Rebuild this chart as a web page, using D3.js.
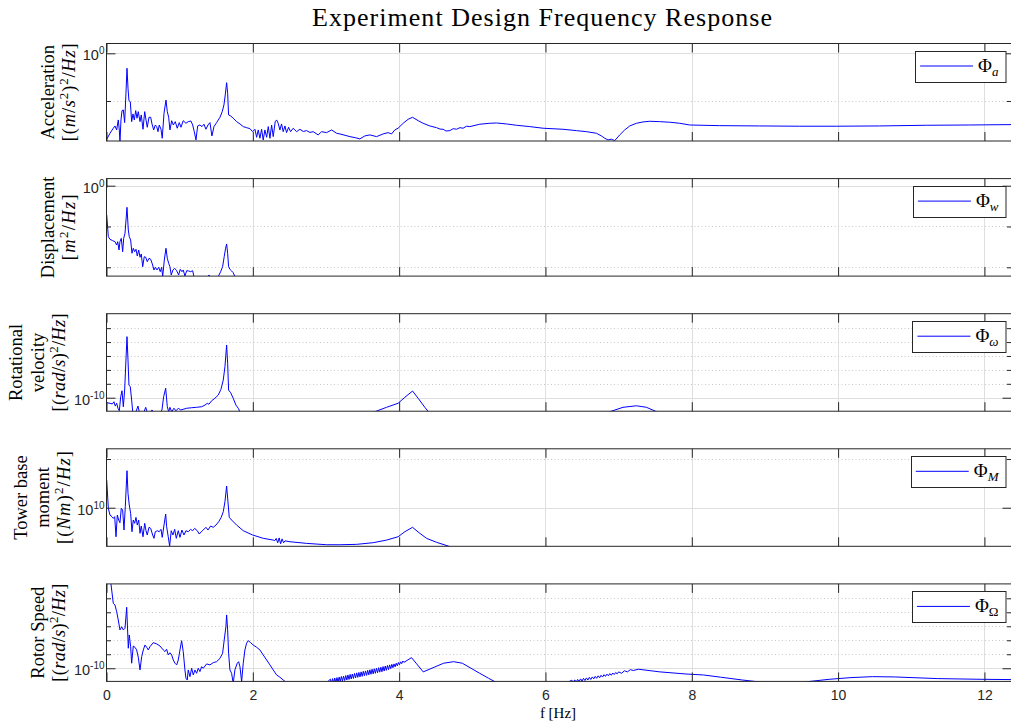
<!DOCTYPE html>
<html>
<head>
<meta charset="utf-8">
<script src="https://cdn.jsdelivr.net/npm/d3@7"></script>
<style>
  body { margin: 0; background: #fff; }
  svg { display: block; }
</style>
</head>
<body>
<svg id="chart" width="1011" height="722"></svg>
<script>
// ---------------------------------------------------------------
// Power spectral densities of the experiment design signals.
// Each series: [frequency (Hz), log10(PSD)].
// ---------------------------------------------------------------
const freqTicks = [0, 2, 4, 6, 8, 10, 12];
const freqMax = 12.37;

const accel = [
  [0.003,-9.01],[0.048,-8.39],[0.093,-7.86],[0.116,-7.62],[0.139,-8.04],[0.161,-6.99],[0.175,-8.04],[0.184,-9.27],
  [0.198,-6.99],[0.212,-6.01],[0.23,-5.94],[0.248,-7.27],[0.266,-4.19],[0.28,-1.57],[0.294,-3.67],[0.307,-4.97],
  [0.325,-5.07],[0.344,-7.17],[0.362,-6.36],[0.38,-6.99],[0.399,-6.01],[0.417,-6.81],[0.434,-6.12],[0.458,-7.17],
  [0.475,-6.47],[0.499,-7.97],[0.522,-6.12],[0.54,-6.99],[0.557,-7.76],[0.581,-6.71],[0.604,-6.71],[0.622,-7.41],
  [0.645,-8.04],[0.667,-7.52],[0.686,-7.69],[0.704,-8.22],[0.721,-7.52],[0.745,-7.97],[0.762,-8.91],[0.786,-6.29],
  [0.813,-4.9],[0.831,-6.12],[0.85,-6.71],[0.867,-8.04],[0.891,-7.07],[0.913,-7.52],[0.94,-7.17],[0.967,-7.86],
  [0.995,-7.27],[1.018,-7.76],[1.049,-7.07],[1.086,-7.34],[1.117,-7.17],[1.154,-7.1],[1.178,-7.52],[1.2,-8.22],
  [1.223,-9.09],[1.246,-7.62],[1.277,-7.52],[1.305,-7.69],[1.332,-7.44],[1.359,-7.97],[1.387,-7.52],[1.414,-7.27],
  [1.441,-8.67],[1.469,-7.69],[1.505,-7.27],[1.551,-6.71],[1.582,-6.12],[1.605,-5.42],[1.623,-4.37],[1.642,-3.08],
  [1.656,-4.19],[1.669,-6.47],[1.697,-6.57],[1.732,-6.81],[1.779,-7.17],[1.824,-7.41],[1.869,-7.69],[1.915,-7.8],
  [1.96,-7.9],[1.997,-8.22],[2.029,-7.97],[2.052,-8.81],[2.074,-8.04],[2.097,-8.91],[2.12,-7.97],[2.142,-9.09],
  [2.165,-8.04],[2.189,-8.81],[2.211,-7.69],[2.234,-8.91],[2.257,-7.52],[2.279,-8.74],[2.306,-7.17],[2.325,-6.99],
  [2.347,-7.34],[2.37,-8.04],[2.393,-7.41],[2.415,-8.22],[2.439,-7.62],[2.461,-8.32],[2.489,-7.76],[2.516,-8.22],
  [2.552,-7.86],[2.598,-8.22],[2.643,-7.97],[2.69,-8.2],[2.735,-8.11],[2.78,-8.3],[2.825,-8.22],[2.893,-8.56],
  [2.94,-8.22],[3.008,-8.32],[3.077,-8.04],[3.145,-8.39],[3.19,-8.46],[3.26,-8.6],[3.327,-8.74],[3.4,-8.85],
  [3.463,-8.98],[3.531,-8.67],[3.6,-8.56],[3.691,-8.74],[3.781,-8.46],[3.85,-8.32],[3.896,-8.46],[3.941,-8.04],
  [3.986,-7.86],[4.055,-7.34],[4.123,-6.92],[4.183,-6.71],[4.26,-7.07],[4.328,-7.34],[4.419,-7.62],[4.511,-7.8],
  [4.56,-7.95],[4.601,-7.97],[4.64,-8.15],[4.693,-8.11],[4.74,-7.9],[4.784,-7.97],[4.83,-7.8],[4.874,-7.86],
  [4.92,-7.65],[4.966,-7.69],[5.102,-7.44],[5.239,-7.34],[5.331,-7.31],[5.467,-7.41],[5.604,-7.55],[5.786,-7.69],
  [5.967,-7.86],[6.24,-7.97],[6.423,-8.11],[6.56,-8.22],[6.697,-8.39],[6.765,-8.67],[6.81,-8.91],[6.855,-9.09],
  [6.902,-9.01],[6.947,-9.16],[7.015,-8.56],[7.083,-8.04],[7.152,-7.62],[7.243,-7.34],[7.333,-7.2],[7.425,-7.13],
  [7.561,-7.17],[7.698,-7.23],[7.835,-7.34],[7.971,-7.52],[8.381,-7.59],[8.928,-7.62],[9.474,-7.65],[9.98,-7.65],
  [10.567,-7.62],[11.209,-7.55],[11.796,-7.52],[12.37,-7.48]
];

const displacement = [
  [0.003,-3.59],[0.025,-6.25],[0.048,-6.57],[0.085,-6.74],[0.116,-6.86],[0.139,-7.27],[0.153,-6.86],[0.171,-7.88],
  [0.184,-6.86],[0.202,-6.45],[0.221,-8.09],[0.235,-6.45],[0.253,-5.83],[0.28,-2.65],[0.298,-5.43],[0.311,-6.25],
  [0.33,-6.65],[0.348,-8.28],[0.366,-7.67],[0.385,-8.09],[0.403,-7.79],[0.421,-8.62],[0.44,-7.88],[0.458,-8.77],
  [0.475,-8.37],[0.495,-9.93],[0.516,-8.7],[0.536,-8.77],[0.557,-9.31],[0.581,-8.9],[0.604,-9.02],[0.631,-9.72],
  [0.649,-10.33],[0.667,-10.0],[0.69,-10.33],[0.713,-10.0],[0.735,-10.54],[0.754,-10.0],[0.768,-11.15],[0.79,-9.11],
  [0.813,-7.67],[0.831,-8.9],[0.85,-9.51],[0.867,-9.93],[0.885,-10.94],[0.908,-10.33],[0.932,-10.12],[0.959,-10.42],
  [0.986,-10.94],[1.008,-10.25],[1.031,-10.54],[1.049,-10.33],[1.072,-11.07],[1.096,-10.42],[1.123,-10.45],
  [1.15,-10.54],[1.178,-10.42],[1.195,-11.15],[1.25,-11.6],[1.3,-11.3],[1.37,-11.4],[1.4,-10.94],[1.43,-11.3],
  [1.48,-11.5],[1.527,-11.15],[1.56,-10.54],[1.587,-9.93],[1.609,-8.7],[1.628,-7.67],[1.642,-7.14],[1.656,-8.28],
  [1.669,-9.93],[1.687,-10.25],[1.71,-10.45],[1.732,-10.66],[1.755,-11.15],[1.8,-11.6],[2.0,-12.0]
];

const rotVelocity = [
  [0.003,-10.36],[0.048,-10.4],[0.079,-10.45],[0.102,-10.29],[0.12,-10.6],[0.139,-10.4],[0.157,-10.76],[0.175,-10.94],
  [0.194,-9.93],[0.212,-9.5],[0.23,-10.65],[0.248,-9.45],[0.266,-7.29],[0.28,-5.61],[0.294,-7.29],[0.307,-9.09],
  [0.325,-9.21],[0.344,-10.17],[0.358,-11.01],[0.39,-11.2],[0.43,-10.6],[0.448,-11.01],[0.5,-11.2],[0.536,-10.69],
  [0.56,-11.1],[0.6,-11.1],[0.622,-10.88],[0.65,-11.1],[0.73,-11.1],[0.758,-10.88],[0.781,-9.93],[0.809,-9.32],
  [0.831,-10.65],[0.85,-11.01],[0.867,-10.69],[0.891,-11.01],[0.922,-10.76],[0.949,-10.94],[0.981,-10.76],
  [1.014,-10.88],[1.049,-10.83],[1.096,-10.76],[1.164,-10.72],[1.232,-10.69],[1.3,-10.65],[1.346,-10.53],
  [1.377,-10.4],[1.4,-10.47],[1.437,-10.22],[1.482,-10.04],[1.527,-9.81],[1.564,-9.4],[1.596,-8.73],[1.619,-7.77],
  [1.642,-6.21],[1.656,-7.53],[1.669,-9.45],[1.697,-9.64],[1.732,-10.04],[1.769,-10.53],[1.801,-10.76],[1.824,-11.01],
  [1.9,-11.4],[3.5,-11.4],[3.668,-11.01],[3.828,-10.69],[3.986,-10.4],[4.078,-9.97],[4.183,-9.52],[4.26,-10.04],
  [4.351,-10.69],[4.406,-11.05],[4.5,-11.5],[6.7,-11.5],[6.878,-11.01],[7.06,-10.69],[7.243,-10.58],[7.38,-10.69],
  [7.538,-11.05],[7.7,-11.5]
];

const towerMoment = [
  [0.003,12.84],[0.025,9.94],[0.048,9.25],[0.075,9.08],[0.093,8.91],[0.112,9.08],[0.13,7.02],[0.148,9.25],
  [0.167,8.74],[0.184,8.46],[0.202,9.94],[0.221,9.76],[0.239,7.71],[0.257,10.1],[0.28,13.8],[0.294,11.48],
  [0.311,10.28],[0.33,9.42],[0.348,7.54],[0.366,8.74],[0.385,8.4],[0.403,9.01],[0.421,8.22],[0.44,8.74],
  [0.458,7.37],[0.475,8.12],[0.499,7.02],[0.522,8.4],[0.54,7.64],[0.557,7.2],[0.581,7.99],[0.604,7.88],
  [0.631,7.2],[0.649,6.86],[0.667,7.54],[0.694,7.64],[0.721,7.54],[0.745,7.78],[0.762,6.96],[0.786,8.22],
  [0.809,9.35],[0.822,8.05],[0.844,7.02],[0.863,6.07],[0.885,7.64],[0.908,7.2],[0.932,7.78],[0.954,6.86],
  [0.981,7.64],[1.004,6.96],[1.031,7.71],[1.059,7.2],[1.086,7.64],[1.117,7.54],[1.15,7.78],[1.178,7.64],
  [1.205,7.88],[1.241,7.64],[1.268,7.3],[1.295,7.54],[1.322,7.71],[1.359,7.99],[1.387,7.71],[1.423,8.12],
  [1.459,7.99],[1.496,8.22],[1.533,8.56],[1.568,9.01],[1.596,9.59],[1.619,10.62],[1.642,12.23],[1.66,10.62],
  [1.678,9.01],[1.71,8.74],[1.779,8.22],[1.869,7.64],[1.997,7.2],[2.142,6.86],[2.279,6.68],[2.3,6.62],
  [2.32,6.85],[2.34,6.4],[2.36,6.9],[2.38,6.3],[2.4,6.8],[2.42,6.4],[2.44,6.6],[2.507,6.51],[2.735,6.34],
  [3.008,6.2],[3.19,6.2],[3.418,6.24],[3.645,6.41],[3.828,6.68],[3.986,7.02],[4.078,7.54],[4.183,7.99],
  [4.273,7.43],[4.374,6.86],[4.511,6.45],[4.669,6.07],[4.8,5.7]
];

const rotorSpeed = [
  [0,-3.5],[0.061,-3.98],[0.093,-5.36],[0.116,-5.48],[0.139,-5.96],[0.161,-6.55],[0.184,-7.26],[0.208,-7.03],
  [0.23,-7.26],[0.253,-7.14],[0.276,-5.64],[0.298,-8.57],[0.311,-7.62],[0.33,-8.46],[0.344,-9.64],[0.366,-8.41],
  [0.389,-8.5],[0.412,-8.69],[0.434,-9.21],[0.458,-10.12],[0.481,-9.17],[0.503,-8.69],[0.526,-8.34],[0.549,-8.5],
  [0.571,-8.69],[0.594,-8.46],[0.639,-8.17],[0.686,-8.26],[0.731,-8.41],[0.776,-8.69],[0.799,-8.81],[0.822,-8.64],
  [0.844,-9.05],[0.867,-8.89],[0.891,-9.05],[0.913,-9.41],[0.936,-9.64],[0.959,-9.76],[0.981,-9.41],[1.004,-8.69],
  [1.027,-8.03],[1.049,-8.81],[1.072,-10.12],[1.086,-10.71],[1.104,-10.84],[1.117,-10.12],[1.141,-10.6],
  [1.164,-10.0],[1.186,-10.48],[1.209,-10.12],[1.232,-10.36],[1.254,-10.0],[1.277,-10.24],[1.3,-9.89],
  [1.322,-10.0],[1.369,-9.69],[1.414,-9.76],[1.459,-9.6],[1.505,-9.53],[1.551,-9.29],[1.587,-8.93],[1.609,-7.98],
  [1.632,-7.03],[1.642,-6.19],[1.656,-7.26],[1.669,-8.93],[1.687,-10.12],[1.71,-10.36],[1.732,-11.07],
  [1.755,-10.12],[1.787,-9.64],[1.806,-9.53],[1.824,-9.89],[1.847,-10.96],[1.869,-9.64],[1.892,-8.69],
  [1.915,-8.21],[1.937,-8.03],[1.97,-8.17],[2.005,-8.34],[2.052,-8.5],[2.097,-8.69],[2.142,-9.05],[2.189,-9.41],
  [2.234,-9.76],[2.279,-10.12],[2.325,-10.48],[2.37,-10.64],[2.415,-10.84],[2.461,-11.03],[2.6,-11.3],
  [2.95,-11.2],[3.02,-10.98],
  [3.06,-10.78],[3.075,-11.1],[3.09,-10.74],[3.105,-11.06],[3.12,-10.7],[3.135,-11.03],[3.15,-10.67],[3.165,-10.99],
  [3.18,-10.63],[3.195,-10.95],[3.21,-10.59],[3.225,-10.91],[3.24,-10.56],[3.255,-10.88],[3.27,-10.52],[3.285,-10.84],
  [3.3,-10.48],[3.315,-10.8],[3.33,-10.44],[3.345,-10.77],[3.36,-10.41],[3.375,-10.73],[3.39,-10.37],[3.405,-10.69],
  [3.42,-10.33],[3.435,-10.65],[3.45,-10.3],[3.465,-10.62],[3.48,-10.26],[3.495,-10.58],[3.51,-10.22],[3.525,-10.54],
  [3.54,-10.19],[3.555,-10.51],[3.57,-10.15],[3.585,-10.47],[3.6,-10.11],[3.615,-10.43],[3.63,-10.07],[3.645,-10.4],
  [3.66,-10.04],[3.675,-10.36],[3.69,-10.0],[3.705,-10.32],[3.72,-9.96],[3.735,-10.28],[3.75,-9.93],[3.765,-10.25],
  [3.78,-9.88],[3.795,-10.2],[3.81,-9.84],[3.825,-10.15],[3.84,-9.8],[3.855,-10.1],[3.87,-9.76],[3.885,-10.03],
  [3.9,-9.72],[3.915,-9.96],[3.93,-9.69],[3.945,-9.9],[3.96,-9.64],[3.975,-9.83],[3.99,-9.59],[4.005,-9.75],
  [4.02,-9.54],[4.035,-9.67],[4.05,-9.48],[4.065,-9.58],
  [4.169,-9.24],[4.24,-9.69],[4.329,-10.26],
  [4.478,-9.93],[4.608,-9.64],[4.745,-9.53],[4.863,-9.64],[4.982,-10.0],[5.101,-10.36],[5.22,-10.71],
  [5.309,-10.96],[5.45,-11.3],[6.2,-11.3],[6.36,-10.85],[6.38,-11.0],[6.4,-10.83],[6.42,-10.98],[6.44,-10.8],
  [6.46,-10.95],[6.48,-10.76],[6.5,-10.92],[6.52,-10.72],[6.54,-10.88],[6.56,-10.69],[6.58,-10.84],[6.6,-10.65],
  [6.62,-10.8],[6.64,-10.62],[6.66,-10.76],[6.68,-10.58],[6.7,-10.72],[6.72,-10.54],[6.74,-10.68],[6.76,-10.5],
  [6.78,-10.63],[6.8,-10.46],[6.82,-10.58],[6.84,-10.42],[6.86,-10.54],[6.88,-10.38],[6.9,-10.5],[6.92,-10.34],
  [6.94,-10.45],[6.96,-10.3],[6.98,-10.4],[7.0,-10.26],[7.04,-10.36],[7.08,-10.18],[7.12,-10.26],[7.16,-10.1],
  [7.2,-10.16],[7.27,-10.07],[7.564,-10.26],[7.919,-10.41],[8.157,-10.48],[8.395,-10.64],[8.691,-10.84],
  [8.928,-10.98],[9.1,-11.2],[9.45,-11.2],[9.581,-10.96],[9.878,-10.79],[10.175,-10.67],[10.471,-10.6],
  [10.768,-10.62],[11.362,-10.74],[11.955,-10.79],[12.37,-10.81]
];

// y ranges (log10 decades), labelled decades and dotted decades per panel
const yRanges      = [[-9.2, 1.03], [-11.08, 0.87], [-10.97, -3.96], [6.04, 16.05], [-10.94, -3.97]];
const majorDecades = [[0], [0], [-10], [10], [-10]];
const minorDecades = [[-5], [-5, -10], [-9, -8, -7, -6, -5], [15], [-9, -8, -7, -6, -5]];

// axis label lines; segments: [text, style] with style '' | 'i' (math italic) | 'sup'
const yLabels = [
  [[["Acceleration", ""]],
   [["[(", ""], ["m", "i"], ["/", ""], ["s", "i"], ["2", "sup"], [")", ""], ["2", "sup"], ["/", ""], ["Hz", "i"], ["]", ""]]],
  [[["Displacement", ""]],
   [["[", ""], ["m", "i"], ["2", "sup"], ["/", ""], ["Hz", "i"], ["]", ""]]],
  [[["Rotational", ""]], [["velocity", ""]],
   [["[(", ""], ["rad", "i"], ["/", ""], ["s", "i"], [")", ""], ["2", "sup"], ["/", ""], ["Hz", "i"], ["]", ""]]],
  [[["Tower base", ""]], [["moment", ""]],
   [["[(", ""], ["Nm", "i"], [")", ""], ["2", "sup"], ["/", ""], ["Hz", "i"], ["]", ""]]],
  [[["Rotor Speed", ""]],
   [["[(", ""], ["rad", "i"], ["/", ""], ["s", "i"], [")", ""], ["2", "sup"], ["/", ""], ["Hz", "i"], ["]", ""]]]
];
const yLabelLastBaseline = [75, 75, 65, 70, 65];
const unitLineLength = [98, 66, 98, 93, 98];

// legend entries: symbol subscript and whether it is set in italic
const legendSubs = [["a", true], ["w", true], ["\u03C9", true], ["M", true], ["\u03A9", false]];

const seriesList = [accel, displacement, rotVelocity, towerMoment, rotorSpeed];

const titleText = "Experiment Design Frequency Response";
const xLabelText = "f [Hz]";

// ---------------------------------------------------------------
// Layout
// ---------------------------------------------------------------
const plotLeft = 106.5, plotRight = 1011.5;
const panelTop0 = 43.5, panelStep = 135.1, panelH = 97.5;
const axisColor = "#262626";
const gridColor = "#dfdfdf";
const minorGridColor = "#c8c8c8";
const lineColor = "#0000ff";
const serif = "'Liberation Serif', 'Times New Roman', serif";
const sans = "'Liberation Sans', Arial, Helvetica, sans-serif";

const svg = d3.select("#chart");
const x = d3.scaleLinear().domain([0, freqMax]).range([plotLeft, plotRight]);

// figure title
svg.append("text")
  .attr("x", 542).attr("y", 26)
  .attr("text-anchor", "middle")
  .attr("font-family", serif).attr("font-size", 26)
  .attr("textLength", 460).attr("lengthAdjust", "spacing")
  .attr("fill", "#000")
  .text(titleText);

function addSegments(textSel, segs, baseSize) {
  let raised = false;
  segs.forEach(([t, style]) => {
    const ts = textSel.append("tspan").text(t);
    if (style === "sup") {
      ts.attr("font-size", baseSize * 0.7).attr("dy", -baseSize * 0.38);
      raised = true;
    } else {
      if (raised) { ts.attr("dy", baseSize * 0.38); raised = false; }
      if (style === "i") ts.attr("font-style", "italic");
    }
  });
}

seriesList.forEach((series, i) => {
  const top = panelTop0 + i * panelStep;
  const bottom = top + panelH;
  const [lo, hi] = yRanges[i];
  const y = d3.scaleLog().domain([Math.pow(10, lo), Math.pow(10, hi)]).range([bottom, top]);
  const g = svg.append("g");

  const clipId = "clip-" + i;
  svg.append("clipPath").attr("id", clipId)
    .append("rect")
    .attr("x", plotLeft).attr("y", top)
    .attr("width", plotRight - plotLeft).attr("height", panelH);

  // background grid
  const grid = g.append("g");
  grid.selectAll(".vgrid").data(freqTicks.filter(t => t > 0)).join("line")
    .attr("x1", d => Math.round(x(d)) + 0.5).attr("x2", d => Math.round(x(d)) + 0.5)
    .attr("y1", top).attr("y2", bottom)
    .attr("stroke", gridColor).attr("stroke-width", 1);
  grid.selectAll(".mgrid").data(minorDecades[i]).join("line")
    .attr("x1", plotLeft).attr("x2", plotRight)
    .attr("y1", d => Math.round(y(Math.pow(10, d))) + 0.5)
    .attr("y2", d => Math.round(y(Math.pow(10, d))) + 0.5)
    .attr("stroke", minorGridColor).attr("stroke-width", 1)
    .attr("stroke-dasharray", "1,2.5");
  grid.selectAll(".hgrid").data(majorDecades[i]).join("line")
    .attr("x1", plotLeft).attr("x2", plotRight)
    .attr("y1", d => Math.round(y(Math.pow(10, d))) + 0.5)
    .attr("y2", d => Math.round(y(Math.pow(10, d))) + 0.5)
    .attr("stroke", gridColor).attr("stroke-width", 1);

  // PSD curve
  const line = d3.line()
    .x(d => x(d[0]))
    .y(d => y(Math.pow(10, d[1])));
  g.append("path")
    .datum(series)
    .attr("clip-path", `url(#${clipId})`)
    .attr("fill", "none")
    .attr("stroke", lineColor)
    .attr("stroke-width", 1)
    .attr("stroke-linejoin", "round")
    .attr("d", line);

  // axes with inward ticks on all four sides
  const isLast = i === seriesList.length - 1;
  const axB = g.append("g").attr("transform", `translate(0,${bottom})`)
    .call(d3.axisBottom(x).tickValues(freqTicks).tickSize(-9).tickPadding(8.5)
      .tickFormat(isLast ? d3.format("d") : () => ""));
  const axT = g.append("g").attr("transform", `translate(0,${top})`)
    .call(d3.axisTop(x).tickValues(freqTicks).tickSize(-9).tickFormat(() => ""));
  const axL = g.append("g").attr("transform", `translate(${plotLeft},0)`)
    .call(d3.axisLeft(y).tickValues(majorDecades[i].map(d => Math.pow(10, d))).tickSize(-9).tickFormat(() => ""));
  const axLm = g.append("g").attr("transform", `translate(${plotLeft},0)`)
    .call(d3.axisLeft(y).tickValues(minorDecades[i].map(d => Math.pow(10, d))).tickSize(-4.5).tickFormat(() => ""));
  const axR = g.append("g").attr("transform", `translate(${plotRight},0)`)
    .call(d3.axisRight(y).tickValues(majorDecades[i].map(d => Math.pow(10, d))).tickSize(-9).tickFormat(() => ""));
  const axRm = g.append("g").attr("transform", `translate(${plotRight},0)`)
    .call(d3.axisRight(y).tickValues(minorDecades[i].map(d => Math.pow(10, d))).tickSize(-4.5).tickFormat(() => ""));
  [axB, axT, axL, axLm, axR, axRm].forEach(a => {
    a.select(".domain").remove();
    a.selectAll(".tick line").attr("stroke", axisColor);
    a.selectAll("text").attr("font-family", sans).attr("font-size", 14).attr("fill", "#262626");
  });

  // axes box
  g.append("rect")
    .attr("x", plotLeft).attr("y", top)
    .attr("width", plotRight - plotLeft).attr("height", panelH)
    .attr("fill", "none").attr("stroke", axisColor).attr("stroke-width", 1);

  // y tick labels: 10^n
  majorDecades[i].forEach(e => {
    const ty = y(Math.pow(10, e));
    const t = g.append("text")
      .attr("x", plotLeft - 2).attr("y", ty + 7)
      .attr("text-anchor", "end")
      .attr("font-family", sans).attr("font-size", 14.5).attr("fill", "#262626");
    t.append("tspan").text("10");
    t.append("tspan").attr("font-size", 10).attr("dy", -6).text(String(e));
  });

  // y axis label (rotated, multi-line)
  const lines = yLabels[i];
  const cy = (top + bottom) / 2;
  lines.forEach((segs, k) => {
    const bx = yLabelLastBaseline[i] - (lines.length - 1 - k) * 21.5;
    const isUnit = k === lines.length - 1;
    const t = g.append("text")
      .attr("transform", `translate(${bx},${cy}) rotate(-90)`)
      .attr("text-anchor", "middle")
      .attr("font-family", serif).attr("font-size", 18.5).attr("fill", "#000");
    if (isUnit) t.attr("textLength", unitLineLength[i]).attr("lengthAdjust", "spacing");
    addSegments(t, segs, 18.5);
  });

  // legend
  const lg = g.append("g");
  const boxRight = 1005.5, boxTop = top + 7.5, boxH = 31;
  const boxRect = lg.append("rect");
  const lt = lg.append("text")
    .attr("y", boxTop + 21)
    .attr("font-family", serif).attr("font-size", 19).attr("fill", "#000");
  lt.append("tspan").text("\u03A6");
  const [sub, ital] = legendSubs[i];
  lt.append("tspan").attr("font-size", 13).attr("dy", 4)
    .attr("font-style", ital ? "italic" : "normal").text(sub);
  const tw = lt.node().getComputedTextLength();
  const textX = boxRight - 7 - tw;
  lt.attr("x", textX);
  const lineEnd = textX - 5, lineStart = lineEnd - 53;
  lg.append("line")
    .attr("x1", lineStart).attr("x2", lineEnd)
    .attr("y1", boxTop + 15).attr("y2", boxTop + 15)
    .attr("stroke", lineColor).attr("stroke-width", 1);
  boxRect
    .attr("x", Math.round(lineStart - 5) + 0.5).attr("y", Math.round(boxTop) + 0.5)
    .attr("width", boxRight - Math.round(lineStart - 5)).attr("height", boxH)
    .attr("fill", "#fff").attr("stroke", axisColor).attr("stroke-width", 1);
});

// x axis label
svg.append("text")
  .attr("x", 558).attr("y", 718)
  .attr("text-anchor", "middle")
  .attr("font-family", serif).attr("font-size", 15).attr("fill", "#000")
  .text(xLabelText);
</script>
</body>
</html>
